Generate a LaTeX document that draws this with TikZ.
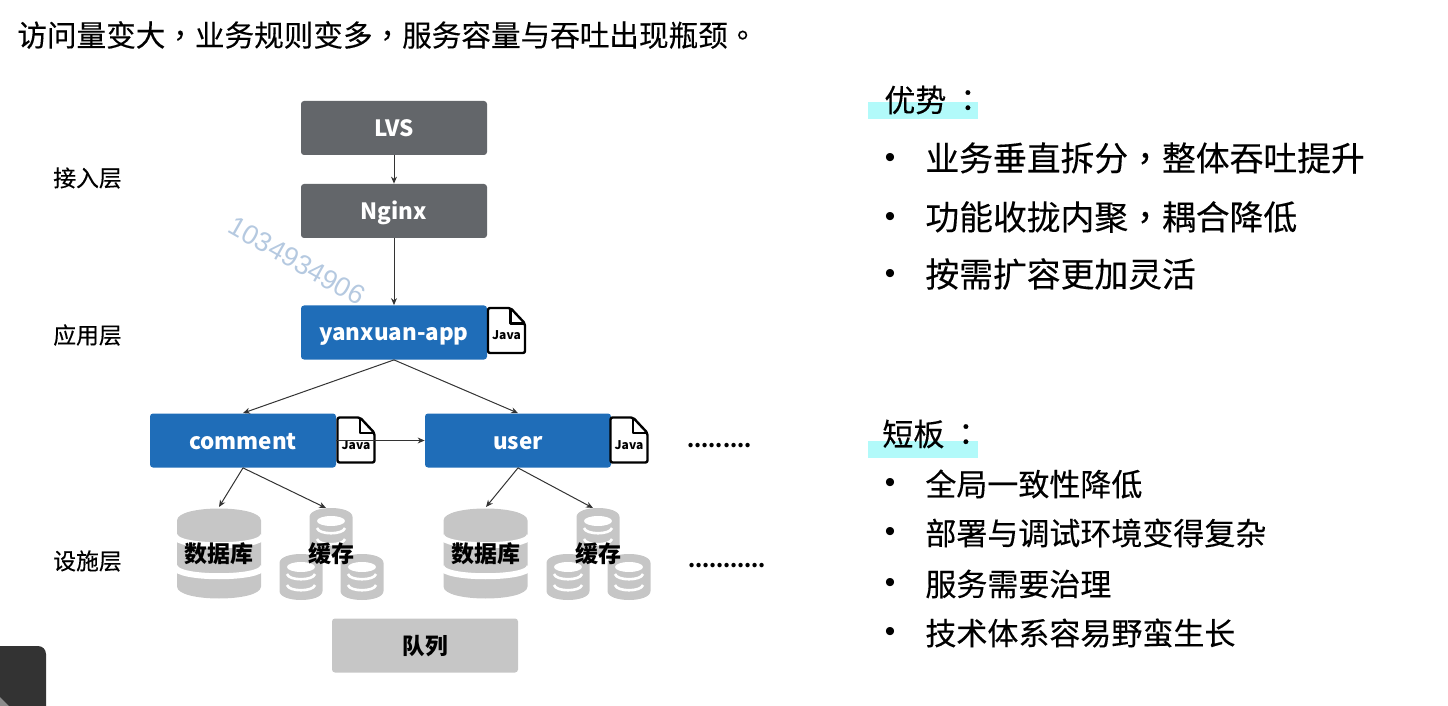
\documentclass[tikz,border=0pt]{standalone}
\usepackage{fontspec}
\setmainfont{Noto Sans CJK SC}
\newfontfamily\tcpunct[FakeBold=0.25]{Noto Sans CJK TC}
\newfontfamily\zhtext[FakeBold=0.25]{Noto Sans CJK SC}
\newfontfamily\wmfont{Liberation Sans}
\usetikzlibrary{arrows.meta}
\definecolor{graybox}{HTML}{63666A}
\definecolor{bluebox}{HTML}{1F6DB8}
\definecolor{storegray}{HTML}{C6C6C6}
\definecolor{markcyan}{HTML}{B2FAFA}
\definecolor{wmblue}{HTML}{B5C9E0}
\tikzset{
  box/.style={rounded corners=1.5pt, minimum width=93pt, minimum height=27pt, inner sep=0pt, text height=10.5pt, text depth=2pt, font=\fontsize{11.2}{14}\selectfont\bfseries, text=white},
  lvsbox/.style={box, fill=graybox},
  appbox/.style={box, fill=bluebox},
  queuebox/.style={box, fill=storegray, text=black, font=\fontsize{11.3}{13}\selectfont\bfseries},
  layerlabel/.style={font=\zhtext\fontsize{11.4}{14}\selectfont},
  storelabel/.style={font=\fontsize{11.5}{13}\selectfont\bfseries},
  headtext/.style={anchor=west, inner sep=0pt, font=\zhtext\fontsize{15.5}{18}\selectfont},
  bigitem/.style={anchor=west, inner sep=0pt, font=\zhtext\fontsize{16.9}{20}\selectfont},
  smallitem/.style={anchor=west, inner sep=0pt, font=\zhtext\fontsize{15.5}{18}\selectfont},
  dotitem/.style={inner sep=0pt, font=\wmfont\fontsize{15}{16}\selectfont},
  moredots/.style={inner sep=0pt, font=\fontsize{10.1}{12}\selectfont\bfseries},
  link/.style={-{Stealth[length=3.5pt,width=3pt]}, draw=black!80, line width=0.5pt},
  javadoc/.pic={
    \draw[fill=white, line width=1.2pt, rounded corners=1pt, line join=round] (-18.5,-22.5) -- (4,-22.5) -- (18.5,-7) -- (18.5,22.5) -- (-18.5,22.5) -- cycle;
    \draw[line width=1.2pt, line join=round] (4,-22.5) -- (4,-7) -- (18.5,-7);
    \node (-label) at (0,5) [inner sep=0pt, font=\fontsize{6}{7}\selectfont\bfseries] {Java};
  },
  dbstack/.pic={
    \fill[storegray] (-42,-33) -- (-42,33) .. controls (-42,49) and (42,49) .. (42,33) -- (42,-33) .. controls (42,-49) and (-42,-49) .. (-42,-33);
    \draw[white, line width=3pt] (-44,-18) .. controls (-44,-5) and (44,-5) .. (44,-18);
    \draw[white, line width=3pt] (-44,13) .. controls (-44,26) and (44,26) .. (44,13);
  },
  cachecyl/.pic={
    \fill[storegray] (-21.5,-14) -- (-21.5,14) .. controls (-21.5,26) and (21.5,26) .. (21.5,14) -- (21.5,-14) .. controls (21.5,-26) and (-21.5,-26) .. (-21.5,-14);
    \fill[white] (0,-10) ellipse [x radius=14, y radius=5];
    \draw[white, line width=1.3pt] (-14,-3) .. controls (-12,4) and (12,4) .. (14,-3);
    \draw[white, line width=1.3pt] (-14,8) .. controls (-12,15) and (12,15) .. (14,8);
  },
}
\begin{document}
\begin{tikzpicture}[x=0.5pt, y=-0.5pt]
  \useasboundingbox (0,0) rectangle (1448,706);
  % corner
  \fill[black!80, rounded corners=4pt] (-20,646) -- (46,646) -- (46,720) -- (-20,720) -- cycle;
  \fill[black!45] (0,697) -- (9,706) -- (0,706) -- cycle;
  % title
  \node(title) at (17, 35) [anchor=west, inner sep=0pt, font=\zhtext\fontsize{14.8}{18}\selectfont] {访问量变大{\tcpunct ，}业务规则变多{\tcpunct ，}服务容量与吞吐出现瓶颈{\tcpunct 。}};
  % layers
  \node(layer1) at (87.5, 178) [layerlabel] {接入层};
  \node(layer2) at (87.5, 335) [layerlabel] {应用层};
  \node(layer3) at (87.5, 561) [layerlabel] {设施层};
  % boxes
  \node(lvs) at (394, 128) [lvsbox] {LVS};
  \node(nginx) at (394, 211) [lvsbox] {Nginx};
  \node(app) at (394, 332.5) [appbox] {yanxuan-app};
  \node(comment) at (243, 440.5) [appbox] {comment};
  \node(user) at (518, 440.5) [appbox] {user};
  \node(queue) at (425, 645.5) [queuebox] {队列};
  \pic (appdoc) at (506.5, 330.5) {javadoc};
  \pic (commentdoc) at (356, 440) {javadoc};
  \pic (userdoc) at (629, 440) {javadoc};
  % stores
  \pic (db1) at (219, 553.5) {dbstack};
  \pic (cache1a) at (331, 531) {cachecyl};
  \pic (cache1b) at (301, 577) {cachecyl};
  \pic (cache1c) at (362, 577) {cachecyl};
  \pic (db2) at (485.5, 553.5) {dbstack};
  \pic (cache2a) at (598, 531) {cachecyl};
  \pic (cache2b) at (568, 577) {cachecyl};
  \pic (cache2c) at (629, 577) {cachecyl};
  \node(db1text) at (219, 554) [storelabel] {数据库};
  \node(cache1text) at (331, 554) [storelabel] {缓存};
  \node(db2text) at (485.5, 554) [storelabel] {数据库};
  \node(cache2text) at (598, 554) [storelabel] {缓存};
  \coordinate (db1top) at (219, 507);
  \coordinate (cache1top) at (326, 508);
  \coordinate (db2top) at (486, 507);
  \coordinate (cache2top) at (593, 508);
  % links
  \path (lvs.south) edge[link] (nginx.north) (nginx.south) edge[link] (app.north);
  \path (app.south) edge[link] (comment.north) (app.south) edge[link] (user.north);
  \path (comment.east) edge[link] (user.west);
  \path (comment.south) edge[link] (db1top) (comment.south) edge[link] (cache1top);
  \path (user.south) edge[link] (db2top) (user.south) edge[link] (cache2top);
  % dots
  \node(more1) at (719.5, 446) [moredots] {.........};
  \node(more2) at (727, 566) [moredots] {...........};
  % watermark
  \node(mark) at (297, 261) [rotate=-29.5, inner sep=0pt, text=wmblue, font=\wmfont\fontsize{13.6}{16}\selectfont] {1034934906};
  % right side
  \fill[markcyan] (868,102) rectangle (978,119);
  \fill[markcyan] (868,441) rectangle (978,458);
  \node(good) at (884, 100) [headtext] {优势{\tcpunct\kern3pt ：}};
  \node(g1dot) at (890, 160) [dotitem] {•};
  \node(g1) at (925, 158) [bigitem] {业务垂直拆分{\tcpunct ，}整体吞吐提升};
  \node(g2dot) at (890, 219) [dotitem] {•};
  \node(g2) at (925, 217) [bigitem] {功能收拢内聚{\tcpunct ，}耦合降低};
  \node(g3dot) at (890, 276) [dotitem] {•};
  \node(g3) at (925, 274) [bigitem] {按需扩容更加灵活};
  \node(bad) at (882, 434) [headtext] {短板{\tcpunct\kern3pt ：}};
  \node(b1dot) at (890, 485) [dotitem] {•};
  \node(b1) at (925, 484) [smallitem] {全局一致性降低};
  \node(b2dot) at (890, 534) [dotitem] {•};
  \node(b2) at (925, 533) [smallitem] {部署与调试环境变得复杂};
  \node(b3dot) at (890, 585) [dotitem] {•};
  \node(b3) at (925, 584) [smallitem] {服务需要治理};
  \node(b4dot) at (890, 634) [dotitem] {•};
  \node(b4) at (925, 633) [smallitem] {技术体系容易野蛮生长};
\end{tikzpicture}
\end{document}
